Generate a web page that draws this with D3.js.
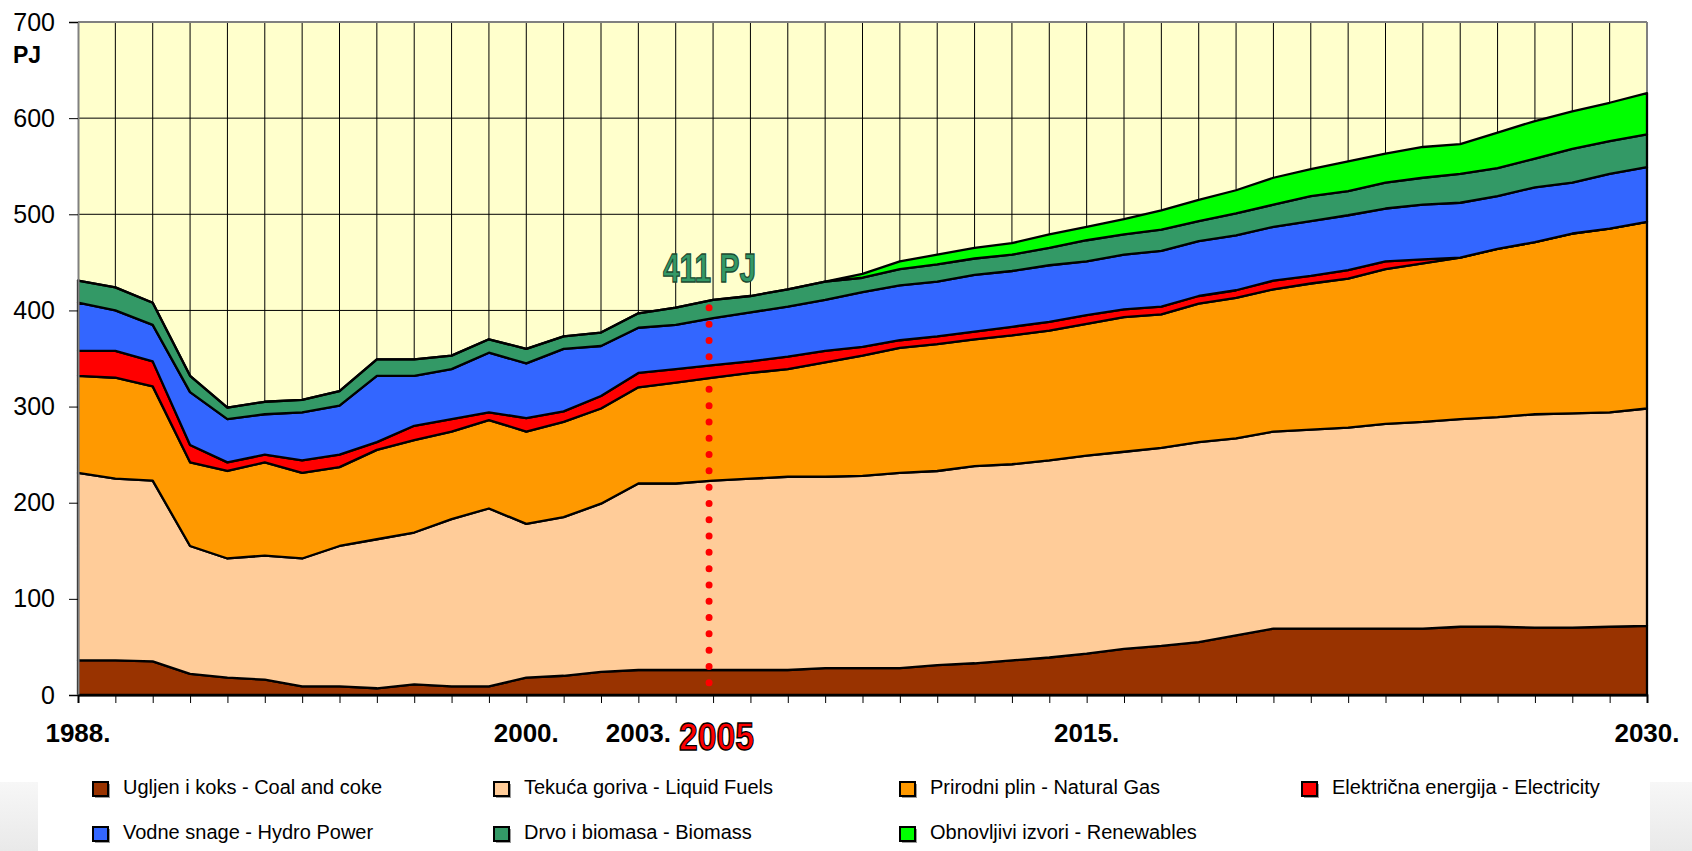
<!DOCTYPE html>
<html>
<head>
<meta charset="utf-8">
<script src="https://cdn.jsdelivr.net/npm/d3@7"></script>
<style>
  body { margin: 0; background: #fff; }
  svg { display: block; font-family: Arial, 'Liberation Sans', sans-serif; }
</style>
</head>
<body>
<svg id="chart" width="1692" height="851"></svg>
<script>
// years on the x axis
const years = [
  1988, 1989, 1990, 1991, 1992, 1993, 1994, 1995, 1996, 1997,
  1998, 1999, 2000, 2001, 2002, 2003, 2004, 2005, 2006, 2007,
  2008, 2009, 2010, 2011, 2012, 2013, 2014, 2015, 2016, 2017,
  2018, 2019, 2020, 2021, 2022, 2023, 2024, 2025, 2026, 2027,
  2028, 2029, 2030,
];

// PJ per source
const coal = [
  36, 36, 35, 22, 18, 16, 9, 9, 7, 11,
  9, 9, 18, 20, 24, 26, 26, 26, 26, 26,
  28, 28, 28, 31, 33, 36, 39, 43, 48, 51,
  55, 62, 69, 69, 69, 69, 69, 71, 71, 70,
  70, 71, 72,
];
const liquid = [
  195, 189, 188, 133, 124, 129, 133, 146, 155, 158,
  174, 185, 160, 165, 175, 194, 194, 197, 199, 201,
  199, 200, 203, 202, 205, 204, 205, 206, 205, 206,
  208, 205, 205, 207, 209, 213, 215, 216, 218, 222,
  223, 223, 226,
];
const gas = [
  101, 105, 98, 87, 91, 97, 89, 82, 93, 96,
  91, 92, 96, 99, 99, 100, 105, 107, 110, 112,
  119, 125, 130, 132, 132, 134, 135, 137, 140, 139,
  144, 146, 148, 152, 155, 161, 165, 168, 175, 179,
  187, 191, 194,
];
const electricity = [
  26, 28, 26, 18, 9, 8, 13, 13, 8, 15,
  13, 8, 14, 11, 13, 15, 14, 13, 12, 13,
  12, 9, 8, 8, 8, 9, 9, 9, 8, 8,
  8, 8, 9, 8, 9, 8, 4, 0, 0, 0,
  0, 0, 0,
];
const hydro = [
  50, 42, 38, 55, 45, 42, 50, 51, 69, 52,
  52, 62, 57, 65, 52, 47, 46, 49, 51, 52,
  53, 57, 57, 57, 59, 58, 59, 56, 57, 58,
  57, 57, 56, 57, 57, 55, 57, 57, 55, 57,
  53, 57, 57,
];
const biomass = [
  23, 24, 23, 17, 12, 13, 13, 15, 17, 17,
  14, 14, 15, 13, 14, 15, 18, 19, 17, 18,
  19, 15, 17, 18, 17, 17, 18, 22, 21, 22,
  21, 23, 23, 26, 25, 27, 28, 30, 29, 30,
  35, 34, 34,
];
const renewables = [
  0, 0, 0, 0, 0, 0, 0, 0, 0, 0,
  0, 0, 0, 0, 0, 0, 0, 0, 0, 0,
  0, 4, 8, 10, 11, 12, 14, 14, 16, 20,
  22, 24, 28, 28, 31, 30, 32, 31, 37, 39,
  39, 40, 43,
];

const seriesKeys = ['coal', 'liquid', 'gas', 'electricity', 'hydro', 'biomass', 'renewables'];
const seriesColors = ['#993300', '#FFCC99', '#FF9900', '#FF0000', '#3366FF', '#339966', '#00FF00'];
const legendLabels = [
  'Ugljen i koks - Coal and coke',
  'Tekuća goriva - Liquid Fuels',
  'Prirodni plin - Natural Gas',
  'Električna energija - Electricity',
  'Vodne snage - Hydro Power',
  'Drvo i biomasa - Biomass',
  'Obnovljivi izvori - Renewables',
];
const yTicks = [0, 100, 200, 300, 400, 500, 600, 700];
const labelYears = [1988, 2000, 2003, 2015, 2030];
const markYear = 2005;
const markLabel = '411 PJ';

const table = years.map((year, i) => ({
  year,
  coal: coal[i],
  liquid: liquid[i],
  gas: gas[i],
  electricity: electricity[i],
  hydro: hydro[i],
  biomass: biomass[i],
  renewables: renewables[i],
}));

const svg = d3.select('#chart');

const plotLeft = 78;
const plotRight = 1647;
const plotTop = 22;
const plotBottom = 695;

const x = d3.scaleLinear().domain([1988, 2030]).range([plotLeft, plotRight]);
const y = d3.scaleLinear().domain([0, 700]).range([plotBottom, plotTop]);

// slide background: grey band at the bottom, white panel on top
const defs = svg.append('defs');
const grad = defs.append('linearGradient')
  .attr('id', 'band')
  .attr('x1', 0).attr('y1', 0).attr('x2', 0).attr('y2', 1);
grad.append('stop').attr('offset', 0).attr('stop-color', '#f7f7f7');
grad.append('stop').attr('offset', 1).attr('stop-color', '#e9e9e9');

svg.append('rect')
  .attr('x', 0).attr('y', 782).attr('width', 1692).attr('height', 69)
  .attr('fill', 'url(#band)');
svg.append('rect')
  .attr('x', 38).attr('y', 0).attr('width', 1612).attr('height', 851)
  .attr('fill', '#fff');

// plot background
svg.append('rect')
  .attr('x', plotLeft).attr('y', plotTop)
  .attr('width', plotRight - plotLeft).attr('height', plotBottom - plotTop)
  .attr('fill', '#FFFFCC');

// grid
svg.append('g')
  .selectAll('line')
  .data(years.slice(1, -1))
  .join('line')
  .attr('x1', (d) => x(d)).attr('x2', (d) => x(d))
  .attr('y1', plotTop).attr('y2', plotBottom)
  .attr('stroke', '#000')
  .attr('stroke-width', 1);

svg.append('g')
  .selectAll('line')
  .data(yTicks.slice(1, -1))
  .join('line')
  .attr('x1', plotLeft).attr('x2', plotRight)
  .attr('y1', (d) => y(d)).attr('y2', (d) => y(d))
  .attr('stroke', '#000')
  .attr('stroke-width', 1);

// top and right frame
svg.append('line')
  .attr('x1', plotLeft).attr('x2', plotRight).attr('y1', plotTop).attr('y2', plotTop)
  .attr('stroke', '#808080').attr('stroke-width', 2);
svg.append('line')
  .attr('x1', plotRight).attr('x2', plotRight).attr('y1', plotTop).attr('y2', plotBottom)
  .attr('stroke', '#808080').attr('stroke-width', 2);

// stacked areas
const stacked = d3.stack().keys(seriesKeys)(table);

const area = d3.area()
  .x((d) => x(d.data.year))
  .y0((d) => y(d[0]))
  .y1((d) => y(d[1]));

svg.append('g')
  .selectAll('path')
  .data(stacked)
  .join('path')
  .attr('d', area)
  .attr('fill', (d, i) => seriesColors[i])
  .attr('stroke', '#000')
  .attr('stroke-width', 2.3)
  .attr('stroke-linejoin', 'round');

// axes
const yAxis = d3.axisLeft(y).tickValues(yTicks).tickSize(9).tickPadding(14);
const yg = svg.append('g').attr('transform', `translate(${plotLeft},0)`).call(yAxis);
yg.select('.domain').attr('stroke', '#808080').attr('stroke-width', 2);
yg.selectAll('.tick line').attr('stroke', '#000');
yg.selectAll('.tick text')
  .attr('font-size', 25)
  .attr('font-family', 'Arial, "Liberation Sans", sans-serif')
  .attr('fill', '#000');

const xAxis = d3.axisBottom(x).tickValues(years).tickSize(8).tickFormat('');
const xg = svg.append('g').attr('transform', `translate(0,${plotBottom})`).call(xAxis);
xg.select('.domain').attr('stroke', '#000').attr('stroke-width', 2);
xg.selectAll('.tick line').attr('stroke', '#000');

svg.append('g')
  .selectAll('text')
  .data(labelYears)
  .join('text')
  .attr('x', (d) => x(d))
  .attr('y', 742)
  .attr('text-anchor', 'middle')
  .attr('font-size', 26)
  .attr('font-weight', 'bold')
  .attr('fill', '#000')
  .text((d) => `${d}.`);

// unit label
svg.append('text')
  .attr('x', 13).attr('y', 63)
  .attr('font-size', 23)
  .attr('font-weight', 'bold')
  .text('PJ');

// 2005 marker
const total2005 = d3.sum(seriesKeys, (k) => table[years.indexOf(markYear)][k]);
svg.append('line')
  .attr('x1', x(markYear) - 4).attr('x2', x(markYear) - 4)
  .attr('y1', y(total2005) + 8).attr('y2', 699)
  .attr('stroke', '#FF0000')
  .attr('stroke-width', 7)
  .attr('stroke-linecap', 'round')
  .attr('stroke-dasharray', '0 16.3');

svg.append('text')
  .attr('x', 679).attr('y', 750)
  .attr('font-size', 38)
  .attr('font-weight', 'bold')
  .attr('textLength', 75)
  .attr('lengthAdjust', 'spacingAndGlyphs')
  .attr('fill', '#FF0000')
  .attr('stroke', '#000')
  .attr('stroke-width', 1.3)
  .text(markYear);

svg.append('text')
  .attr('x', 663).attr('y', 282)
  .attr('font-size', 41)
  .attr('font-weight', 'bold')
  .attr('textLength', 93)
  .attr('lengthAdjust', 'spacingAndGlyphs')
  .attr('fill', '#339966')
  .attr('stroke', '#1b4a30')
  .attr('stroke-width', 1.3)
  .text(markLabel);

// legend
const legendCols = [93, 494, 900, 1302];
const legendRows = [782, 827];
const legend = svg.append('g')
  .selectAll('g')
  .data(legendLabels)
  .join('g')
  .attr('transform', (d, i) => `translate(${legendCols[i % 4]},${legendRows[Math.floor(i / 4)]})`);

legend.append('rect')
  .attr('x', 2).attr('y', 2).attr('width', 15).attr('height', 14)
  .attr('fill', '#9a9a9a');
legend.append('rect')
  .attr('x', 0).attr('y', 0).attr('width', 15).attr('height', 14)
  .attr('fill', (d, i) => seriesColors[i])
  .attr('stroke', '#000')
  .attr('stroke-width', 2);
legend.append('text')
  .attr('x', 30).attr('y', 12)
  .attr('font-size', 20)
  .attr('fill', '#000')
  .text((d) => d);
</script>
</body>
</html>
